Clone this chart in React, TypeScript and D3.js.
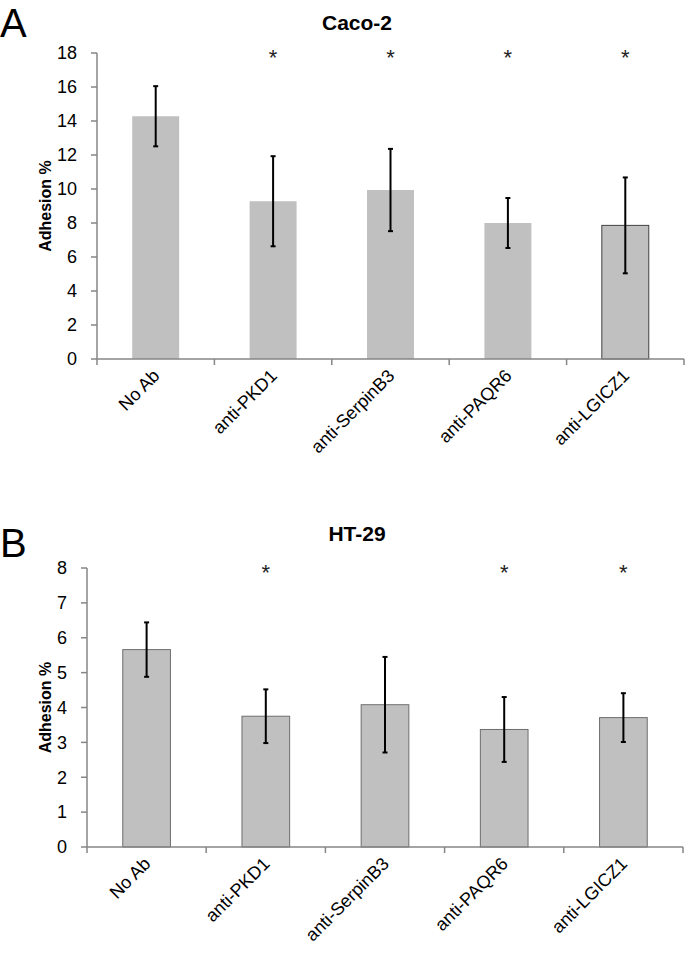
import React from "react";
import * as d3 from "d3";

const categories = ["No Ab", "anti-PKD1", "anti-SerpinB3", "anti-PAQR6", "anti-LGICZ1"];

const cacoMeans = [14.28, 9.28, 9.94, 8.0, 7.86];
const cacoErrors = [1.77, 2.65, 2.42, 1.47, 2.82];
const cacoSignificant = [false, true, true, true, true];
const cacoTicks = [0, 2, 4, 6, 8, 10, 12, 14, 16, 18];

const htMeans = [5.66, 3.75, 4.08, 3.37, 3.71];
const htErrors = [0.78, 0.77, 1.37, 0.93, 0.7];
const htSignificant = [false, true, false, true, true];
const htTicks = [0, 1, 2, 3, 4, 5, 6, 7, 8];

const FONT = "'Liberation Sans', Arial, sans-serif";

type PanelProps = {
  letter: string;
  title: string;
  means: number[];
  errors: number[];
  significant: boolean[];
  ticks: number[];
  x0: number;
  x1: number;
  yTop: number;
  yBottom: number;
  titleY: number;
  letterY: number;
  barStroke: (i: number) => string;
};

function Panel(p: PanelProps) {
  const yMax = p.ticks[p.ticks.length - 1];
  const y = d3.scaleLinear().domain([0, yMax]).range([p.yBottom, p.yTop]);
  const x = d3.scaleBand<string>().domain(categories).range([p.x0, p.x1]).paddingInner(0.6).paddingOuter(0.3);
  const bandStep = x.step();
  const edges = d3.range(categories.length + 1).map((i) => p.x0 + i * bandStep);
  const axisColor = "#868686";
  const capW = 2.5;
  return (
    <g>
      <text x={0} y={p.letterY} fontFamily={FONT} fontSize={40} fill="#000">{p.letter}</text>
      <text x={357} y={p.titleY} fontFamily={FONT} fontSize={21} fontWeight="bold" textAnchor="middle" fill="#000">{p.title}</text>
      <text
        transform={`translate(51,${(p.yTop + p.yBottom) / 2}) rotate(-90)`}
        fontFamily={FONT}
        fontSize={16}
        fontWeight="bold"
        textAnchor="middle"
        fill="#000"
      >
        Adhesion %
      </text>
      {categories.map((c, i) => {
        const bx = x(c)!;
        const bw = x.bandwidth();
        const cx = bx + bw / 2;
        const m = p.means[i];
        const e = p.errors[i];
        const stroke = p.barStroke(i);
        return (
          <g key={c}>
            <rect
              x={bx}
              y={y(m)}
              width={bw}
              height={y(0) - y(m)}
              fill="#c0c0c0"
              stroke={stroke}
              strokeWidth={stroke === "none" ? 0 : 1}
            />
            <line x1={cx} x2={cx} y1={y(m + e)} y2={y(m - e)} stroke="#000" strokeWidth={2} />
            <line x1={cx - capW} x2={cx + capW} y1={y(m + e)} y2={y(m + e)} stroke="#000" strokeWidth={2} />
            <line x1={cx - capW} x2={cx + capW} y1={y(m - e)} y2={y(m - e)} stroke="#000" strokeWidth={2} />
            {p.significant[i] && (
              <text x={cx} y={y(yMax) + 12} fontFamily={FONT} fontSize={22} textAnchor="middle" fill="#222">*</text>
            )}
            <text
              transform={`translate(${cx + 5},${p.yBottom + 18}) rotate(-45)`}
              fontFamily={FONT}
              fontSize={18}
              textAnchor="end"
              fill="#000"
            >
              {c}
            </text>
          </g>
        );
      })}
      <line x1={p.x0} x2={p.x0} y1={p.yTop} y2={p.yBottom} stroke={axisColor} strokeWidth={1.5} />
      <line x1={p.x0} x2={p.x1} y1={p.yBottom} y2={p.yBottom} stroke={axisColor} strokeWidth={1.5} />
      {p.ticks.map((t) => (
        <g key={t}>
          <line x1={p.x0 - 6} x2={p.x0} y1={y(t)} y2={y(t)} stroke={axisColor} strokeWidth={1.5} />
          <text x={p.x0 - 20} y={y(t)} dy="0.35em" fontFamily={FONT} fontSize={18} textAnchor="end" fill="#000">
            {t}
          </text>
        </g>
      ))}
      {edges.map((ex, i) => (
        <line key={i} x1={ex} x2={ex} y1={p.yBottom} y2={p.yBottom + 6} stroke={axisColor} strokeWidth={1.5} />
      ))}
    </g>
  );
}

export default function App() {
  return (
    <svg width={685} height={959} style={{ position: "absolute", left: 0, top: 0, background: "#fff" }}>
      <rect x={0} y={0} width={685} height={959} fill="#fff" />
      <Panel
        letter="A"
        title="Caco-2"
        means={cacoMeans}
        errors={cacoErrors}
        significant={cacoSignificant}
        ticks={cacoTicks}
        x0={97}
        x1={684}
        yTop={53}
        yBottom={359}
        titleY={30}
        letterY={37}
        barStroke={(i) => (i === 4 ? "#404040" : "none")}
      />
      <Panel
        letter="B"
        title="HT-29"
        means={htMeans}
        errors={htErrors}
        significant={htSignificant}
        ticks={htTicks}
        x0={87}
        x1={683}
        yTop={568}
        yBottom={847}
        titleY={541}
        letterY={557}
        barStroke={() => "#6e6e6e"}
      />
    </svg>
  );
}
